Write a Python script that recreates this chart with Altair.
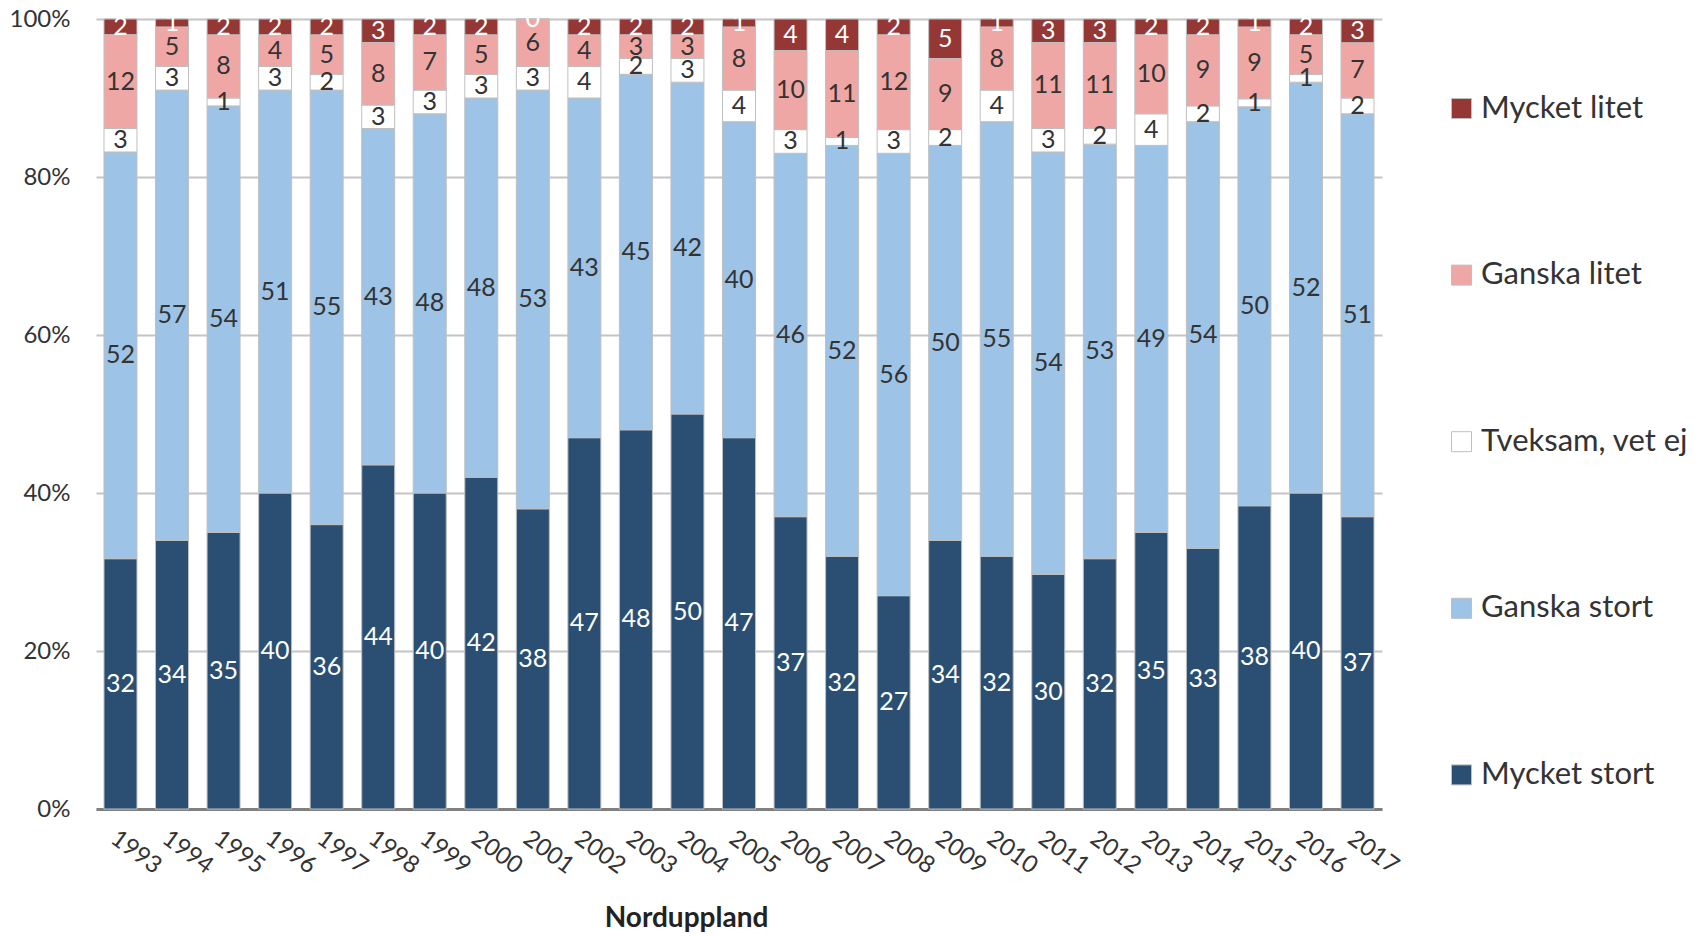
import altair as alt
import pandas as pd

years = ["1993", "1994", "1995", "1996", "1997", "1998", "1999", "2000", "2001",
         "2002", "2003", "2004", "2005", "2006", "2007", "2008", "2009", "2010",
         "2011", "2012", "2013", "2014", "2015", "2016", "2017"]

mycket_stort = [32, 34, 35, 40, 36, 44, 40, 42, 38, 47, 48, 50, 47, 37, 32, 27, 34, 32, 30, 32, 35, 33, 38, 40, 37]
ganska_stort = [52, 57, 54, 51, 55, 43, 48, 48, 53, 43, 45, 42, 40, 46, 52, 56, 50, 55, 54, 53, 49, 54, 50, 52, 51]
tveksam = [3, 3, 1, 3, 2, 3, 3, 3, 3, 4, 2, 3, 4, 3, 1, 3, 2, 4, 3, 2, 4, 2, 1, 1, 2]
ganska_litet = [12, 5, 8, 4, 5, 8, 7, 5, 6, 4, 3, 3, 8, 10, 11, 12, 9, 8, 11, 11, 10, 9, 9, 5, 7]
mycket_litet = [2, 1, 2, 2, 2, 3, 2, 2, 0, 2, 2, 2, 1, 4, 4, 2, 5, 1, 3, 3, 2, 2, 1, 2, 3]

legend_order = ["Mycket litet", "Ganska litet", "Tveksam, vet ej", "Ganska stort", "Mycket stort"]
colors = ["#953735", "#efa7a6", "#ffffff", "#9dc3e6", "#2a4f72"]

series = [
    ("Mycket stort", mycket_stort),
    ("Ganska stort", ganska_stort),
    ("Tveksam, vet ej", tveksam),
    ("Ganska litet", ganska_litet),
    ("Mycket litet", mycket_litet),
]

rows = []
for k, (cat, vals) in enumerate(series):
    for yr, v in zip(years, vals):
        rows.append({"year": yr, "cat": cat, "value": v, "ord": k})
df = pd.DataFrame(rows)

FONT = "Lato"

base = alt.Chart(df).transform_stack(
    stack="value", groupby=["year"], as_=["v0", "v1"],
    sort=[alt.SortField("ord", order="ascending")], offset="normalize"
).transform_calculate(mid="(datum.v0 + datum.v1) / 2")

x_enc = alt.X(
    "year:N",
    sort=years,
    scale=alt.Scale(paddingInner=0.36, paddingOuter=0.155),
    axis=alt.Axis(
        title="Norduppland",
        labelAngle=36, labelAlign="left", labelBaseline="top", labelPadding=17,
        ticks=False, domainColor="#808080", domainWidth=3,
        labelFont=FONT, labelFontSize=24, labelColor="#333333",
        titleFont=FONT, titleFontSize=28, titleFontWeight="bold", titleColor="#222222",
        titleX=590, titleY=117, titleAlign="center", titleBaseline="alphabetic",
    ),
)

bars = base.mark_bar(stroke="#bfbfbf", strokeWidth=1).encode(
    x=x_enc,
    y=alt.Y(
        "v0:Q",
        scale=alt.Scale(domain=[0, 1], nice=False),
        axis=alt.Axis(
            title=None, format=".0%", values=[0, 0.2, 0.4, 0.6, 0.8, 1.0],
            grid=True, gridColor="#c4c4c4", gridWidth=2, domain=False, ticks=False,
            labelPadding=26, labelFont=FONT, labelFontSize=24, labelColor="#333333",
        ),
    ),
    y2="v1:Q",
    color=alt.Color(
        "cat:N",
        scale=alt.Scale(domain=legend_order, range=colors),
        legend=alt.Legend(
            title=None, orient="none", legendX=1350, legendY=74,
            symbolType="square", symbolSize=400, symbolStrokeColor="#bfbfbf",
            symbolStrokeWidth=1, labelFont=FONT, labelFontSize=31, labelLimit=0,
            labelColor="#333333", labelOffset=4, rowPadding=134.6, padding=0,
        ),
    ),
)

labels = base.mark_text(font=FONT, fontSize=25, baseline="middle", align="center").encode(
    x=alt.X("year:N", sort=years),
    y=alt.Y("mid:Q"),
    text=alt.Text("value:Q"),
    color=alt.condition(
        alt.FieldOneOfPredicate(field="cat", oneOf=["Mycket stort", "Mycket litet"]),
        alt.value("white"),
        alt.value("#333333"),
    ),
)

chart = alt.layer(bars, labels).properties(
    width=1286, height=790,
    autosize=alt.AutoSizeParams(type="none"),
    padding={"left": 88, "top": 11, "right": 308, "bottom": 125},
).configure_view(stroke=None)

chart.save("out.html", embed_options={"renderer": "svg", "actions": False})
